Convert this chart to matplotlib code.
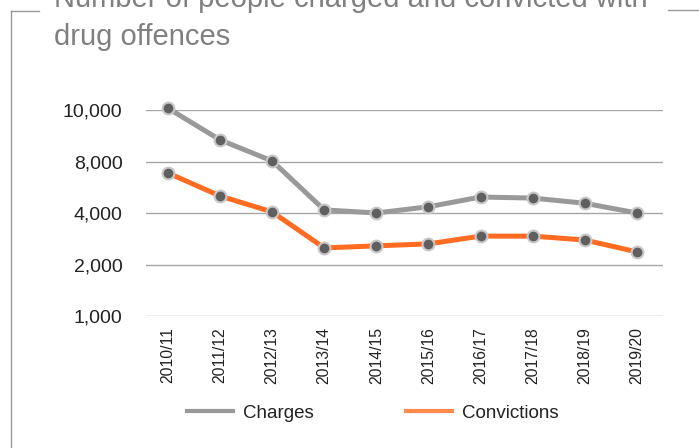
import matplotlib.pyplot as plt
from matplotlib.lines import Line2D
from matplotlib.ticker import FixedLocator, FixedFormatter, NullLocator

years = ["2010/11", "2011/12", "2012/13", "2013/14", "2014/15",
         "2015/16", "2016/17", "2017/18", "2018/19", "2019/20"]
# values read against the (evenly spaced) gridlines of the original
charges = [16400, 10700, 8060, 4170, 4000, 4350, 4960, 4890, 4560, 4000]
convictions = [6860, 5030, 4060, 2500, 2570, 2640, 2930, 2930, 2780, 2370]
tick_vals = [1000, 2000, 4000, 8000, 16000]
tick_labels = ["1,000", "2,000", "4,000", "8,000", "10,000"]

plt.rcParams['font.family'] = ['Liberation Sans', 'DejaVu Sans']

fig = plt.figure(figsize=(6.99, 4.48), dpi=100)
ax = fig.add_axes([146 / 699, 1 - 316 / 448, (663 - 146) / 699, (316 - 110) / 448])

x = list(range(len(years)))
ax.plot(x, charges, color="#999999", lw=3.6, marker="o", ms=8.5,
        mfc="#5f5f5f", mec="#c8c8c8", mew=1.5, label="Charges", clip_on=False, zorder=3)
ax.plot(x, convictions, color="#ff6b21", lw=3.6, marker="o", ms=8.5,
        mfc="#5f5f5f", mec="#c8c8c8", mew=1.5, label="Convictions", clip_on=False, zorder=3)

ax.set_yscale("log", base=2)
ax.set_ylim(1000, 16000)
ax.yaxis.set_major_locator(FixedLocator(tick_vals))
ax.yaxis.set_major_formatter(FixedFormatter(tick_labels))
ax.yaxis.set_minor_locator(NullLocator())
ax.set_xlim(-0.42, 9.5)
ax.set_xticks(x)
ax.set_xticklabels(years, rotation=90, fontsize=11.3, color="#222222")
ax.tick_params(axis="y", labelsize=14, labelcolor="#222222", length=0, pad=17)
ax.tick_params(axis="x", length=0, pad=8)
ax.grid(axis="y", color="#a6a6a6", lw=1)
ax.set_axisbelow(True)
for s in ax.spines.values():
    s.set_visible(False)

# legend with plain lines
handles = [Line2D([], [], color="#999999", lw=3),
           Line2D([], [], color="#ff8a4c", lw=3)]
fig.legend(handles, ["Charges", "Convictions"], loc="center",
           bbox_to_anchor=(373 / 699, 1 - 413 / 448), ncol=2, frameon=False,
           fontsize=13.5, handlelength=2.45, columnspacing=4.9, handletextpad=0.55,
           labelcolor="#222222")

# frame around the chart
fc = "#999999"
fig.add_artist(Line2D([11 / 699, 11 / 699], [0, 1 - 11 / 448], color=fc, lw=1))
fig.add_artist(Line2D([11 / 699, 39 / 699], [1 - 11 / 448, 1 - 11 / 448], color=fc, lw=1))
fig.add_artist(Line2D([668 / 699, 1], [1 - 10 / 448, 1 - 10 / 448], color=fc, lw=1))

title_font = ['Liberation Sans Narrow', 'Liberation Sans', 'DejaVu Sans']
fig.text(54 / 699, 1 - 7 / 448, "Number of people charged and convicted with",
         fontsize=21, color="#808080", family=title_font, va="baseline")
fig.text(54 / 699, 1 - 45 / 448, "drug offences",
         fontsize=21, color="#808080", family=title_font, va="baseline")

fig.savefig("out.png", dpi=100)
